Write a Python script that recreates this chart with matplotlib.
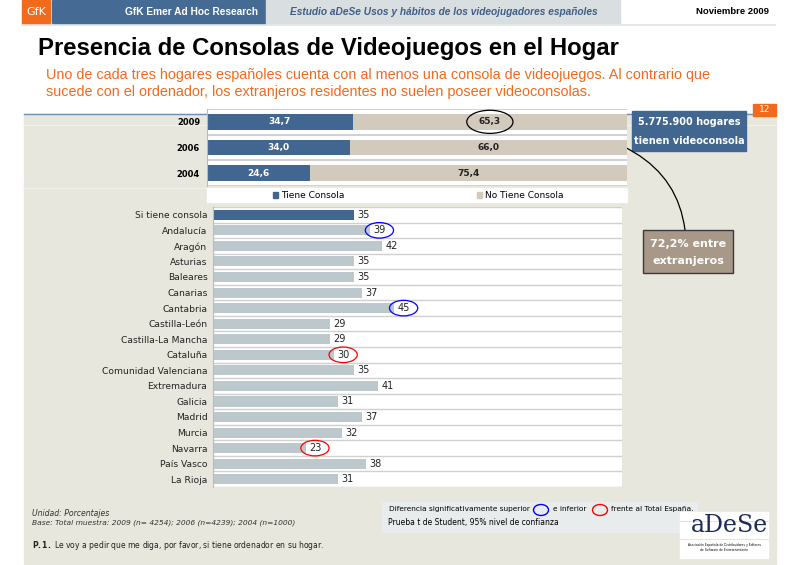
import numpy as np
import matplotlib.pyplot as plt
from matplotlib.patches import Rectangle, Ellipse, PathPatch
from matplotlib.path import Path

# data
years = ['2009', '2006', '2004']
tiene = [34.7, 34.0, 24.6]
no_tiene = [65.3, 66.0, 75.4]

regiones = ['Si tiene consola', 'Andalucía', 'Aragón', 'Asturias', 'Baleares', 'Canarias',
            'Cantabria', 'Castilla-León', 'Castilla-La Mancha', 'Cataluña',
            'Comunidad Valenciana', 'Extremadura', 'Galicia', 'Madrid', 'Murcia',
            'Navarra', 'País Vasco', 'La Rioja']
valores = [35, 39, 42, 35, 35, 37, 45, 29, 29, 30, 35, 41, 31, 37, 32, 23, 38, 31]
superior = ['Andalucía', 'Cantabria']
inferior = ['Cataluña', 'Navarra']

BLUE = '#41668F'
BEIGE = '#D3CABE'
GREY_BAR = '#BCC8CC'
BG = '#E8E7DD'
ORANGE = '#F26A1B'

W, H = 800, 565
fig = plt.figure(figsize=(W / 100, H / 100), dpi=100)


def px_axes(x0, y0, x1, y1):
    return fig.add_axes([x0 / W, 1 - y1 / H, (x1 - x0) / W, (y1 - y0) / H])


# background canvas in pixel coordinates
bg = fig.add_axes([0, 0, 1, 1])
bg.set_xlim(0, W)
bg.set_ylim(H, 0)
bg.axis('off')
bg.add_patch(Rectangle((24, 114), 752, 450, color=BG, zorder=0))
bg.plot([24, 753], [114, 114], color='#6F8FB5', lw=1, zorder=1)
bg.plot([24, 776], [125, 125], color='#F2F1EC', lw=0.8, zorder=0.5)
bg.plot([24, 207], [188, 188], color='#F2F1EC', lw=0.8, zorder=0.5)
bg.plot([22, 775], [25, 25], color='#E4E8EA', lw=1.5, zorder=1)

# header
bg.add_patch(Rectangle((22, 0), 28, 23, color=ORANGE))
bg.text(36, 12, 'GfK', color='white', fontsize=8, ha='center', va='center')
bg.add_patch(Rectangle((52, 0), 213, 23, color='#456A93'))
bg.text(258, 12, 'GfK Emer Ad Hoc Research', color='white', fontsize=7.3,
        fontweight='bold', ha='right', va='center', family='Liberation Sans')
bg.add_patch(Rectangle((266, 0), 354, 23, color='#D9DFE1'))
bg.text(290, 12, 'Estudio aDeSe Usos y hábitos de los videojugadores españoles',
        color='#3E5F88', fontsize=7.3, fontweight='bold', style='italic', ha='left', va='center',
        family='Liberation Sans')
bg.text(769, 12, 'Noviembre 2009', color='black', fontsize=6.8, fontweight='bold',
        ha='right', va='center', family='Liberation Sans')

# title
bg.text(38, 48, 'Presencia de Consolas de Videojuegos en el Hogar', fontsize=17.2,
        fontweight='bold', ha='left', va='center', family='Liberation Sans')
bg.text(46, 75, 'Uno de cada tres hogares españoles cuenta con al menos una consola de videojuegos. Al contrario que',
        fontsize=10.4, color=ORANGE, ha='left', va='center', family='Liberation Sans')
bg.text(46, 92, 'sucede con el ordenador, los extranjeros residentes no suelen poseer videoconsolas.',
        fontsize=10.4, color=ORANGE, ha='left', va='center', family='Liberation Sans')

# page number
bg.add_patch(Rectangle((753, 104), 23, 12, color=ORANGE, zorder=3))
bg.text(764.5, 110, '12', color='white', fontsize=6.5, ha='center', va='center', zorder=4)

# callouts
bg.add_patch(Rectangle((632, 111), 114, 40, color=BLUE, zorder=3))
bg.text(689, 122, '5.775.900 hogares', color='white', fontsize=7, fontweight='bold',
        ha='center', va='center', zorder=4)
bg.text(689, 141, 'tienen videoconsola', color='white', fontsize=7, fontweight='bold',
        ha='center', va='center', zorder=4)
bg.add_patch(Rectangle((643, 230), 90, 43, facecolor='#A89888', edgecolor='#3A3A3A',
                       lw=1, zorder=3))
bg.text(688, 244, '72,2% entre', color='white', fontsize=8, fontweight='bold',
        ha='center', va='center', zorder=4)
bg.text(688, 261, 'extranjeros', color='white', fontsize=8, fontweight='bold',
        ha='center', va='center', zorder=4)
curve = Path([(509, 124), (672, 128), (685, 230)], [Path.MOVETO, Path.CURVE3, Path.CURVE3])
bg.add_patch(PathPatch(curve, facecolor='none', edgecolor='black', lw=0.9, zorder=5))

# footer
bg.text(32, 513, 'Unidad: Porcentajes', fontsize=5.6, style='italic', color='#333333', va='center')
bg.text(32, 523, 'Base: Total muestra: 2009 (n= 4254); 2006 (n=4239); 2004 (n=1000)',
        fontsize=5.4, style='italic', color='#333333', va='center')
bg.text(32, 546, r'$\bf{P.1.}$ Le voy a pedir que me diga, por favor, si tiene ordenador en su hogar.',
        fontsize=5.5, color='#222222', va='center')
bg.add_patch(Rectangle((382, 502), 315, 30, color='#E9ECEC', zorder=1))
bg.text(389, 509, 'Diferencia significativamente superior', fontsize=5.3, va='center', zorder=2)
bg.add_patch(Ellipse((541, 510), 15, 11, facecolor='none', edgecolor='blue', lw=1, zorder=2))
bg.text(553, 509, 'e inferior', fontsize=5.3, va='center', zorder=2)
bg.add_patch(Ellipse((600, 510), 15, 11, facecolor='none', edgecolor='red', lw=1, zorder=2))
bg.text(611, 509, 'frente al Total España.', fontsize=5.3, va='center', zorder=2)
bg.text(388, 523, 'Prueba t de Student, 95% nivel de confianza', fontsize=5.5, va='center', zorder=2)
bg.add_patch(Rectangle((680, 512), 88, 46, color='white', zorder=3))
bg.plot([680, 768], [521, 521], color='#DDDDDD', lw=0.6, zorder=3.5)
bg.plot([680, 768], [539, 539], color='#DDDDDD', lw=0.6, zorder=3.5)
bg.text(730, 526, 'aDeSe', fontsize=17, family='DejaVu Serif', color='#1D2A5A',
        ha='center', va='center', zorder=4)
bg.text(724, 545, 'Asociación Española de Distribuidores y Editores', fontsize=2.2,
        ha='center', va='center', zorder=4)
bg.text(724, 550, 'de Software de Entretenimiento', fontsize=2.2, ha='center', va='center', zorder=4)

# top chart
ax1 = px_axes(207, 109, 627, 186)
ax1.set_facecolor('white')
y1 = np.arange(len(years))
ax1.barh(y1, tiene, height=0.6, color=BLUE, zorder=2)
ax1.barh(y1, no_tiene, left=tiene, height=0.6, color=BEIGE, zorder=2)
for i in range(len(years)):
    ax1.text(tiene[i] / 2, y1[i], f'{tiene[i]:.1f}'.replace('.', ','), color='white',
             fontsize=6.5, fontweight='bold', ha='center', va='center', zorder=3)
    ax1.text(tiene[i] + no_tiene[i] / 2, y1[i], f'{no_tiene[i]:.1f}'.replace('.', ','),
             color='#222222', fontsize=6.5, fontweight='bold', ha='center', va='center', zorder=3)
ax1.set_xlim(0, 100)
ax1.set_ylim(2.5, -0.5)
ax1.set_yticks(y1)
ax1.set_yticklabels(years, fontsize=6, fontweight='bold')
ax1.tick_params(length=0, pad=5)
ax1.set_xticks([])
for yy in [-0.5, 0.5, 1.5, 2.5]:
    ax1.axhline(yy, color='#C8C8C8', lw=1.2, zorder=1)
for s in ['top', 'right', 'bottom']:
    ax1.spines[s].set_visible(False)
ax1.spines['left'].set_color('#BBBBBB')
# ellipse around 65,3
ax1.add_patch(Ellipse((tiene[0] + no_tiene[0] / 2, 0), 11, 0.9, facecolor='none',
                      edgecolor='black', lw=0.9, zorder=4, clip_on=False))

# legend strip
bg.add_patch(Rectangle((207, 188), 420, 14, color='white', zorder=1))
bg.add_patch(Rectangle((273, 192), 5, 6, color=BLUE, zorder=2))
bg.text(281, 195, 'Tiene Consola', fontsize=6.5, va='center', zorder=2)
bg.add_patch(Rectangle((477, 192), 5, 6, color=BEIGE, zorder=2))
bg.text(485, 195, 'No Tiene Consola', fontsize=6.5, va='center', zorder=2)

# bottom chart
ax2 = px_axes(213, 207, 622, 487)
ax2.set_facecolor('white')
y2 = np.arange(len(regiones))
colors = [BLUE] + [GREY_BAR] * (len(regiones) - 1)
ax2.barh(y2, valores, height=0.65, color=colors, zorder=2)
for i, v in enumerate(valores):
    ax2.text(v + 0.8, y2[i], str(v), fontsize=7, ha='left', va='center', color='#222222', zorder=3)
    if regiones[i] in superior or regiones[i] in inferior:
        c = 'blue' if regiones[i] in superior else 'red'
        ax2.add_patch(Ellipse((v + 2.3, y2[i]), 7, 1.0, facecolor='none', edgecolor=c,
                              lw=0.9, zorder=4))
ax2.set_xlim(0, 101.5)
ax2.set_ylim(len(regiones) - 0.5, -0.5)
ax2.set_yticks(y2)
ax2.set_yticklabels(regiones, fontsize=6.6, color='#222222')
ax2.tick_params(length=0, pad=4)
ax2.set_xticks([])
for yy in np.arange(-0.5, len(regiones), 1):
    ax2.axhline(yy, color='#D0D0D0', lw=1, zorder=1)
for s in ['top', 'right', 'bottom']:
    ax2.spines[s].set_visible(False)
ax2.spines['left'].set_color('#BBBBBB')

fig.savefig('out.png', dpi=100)
